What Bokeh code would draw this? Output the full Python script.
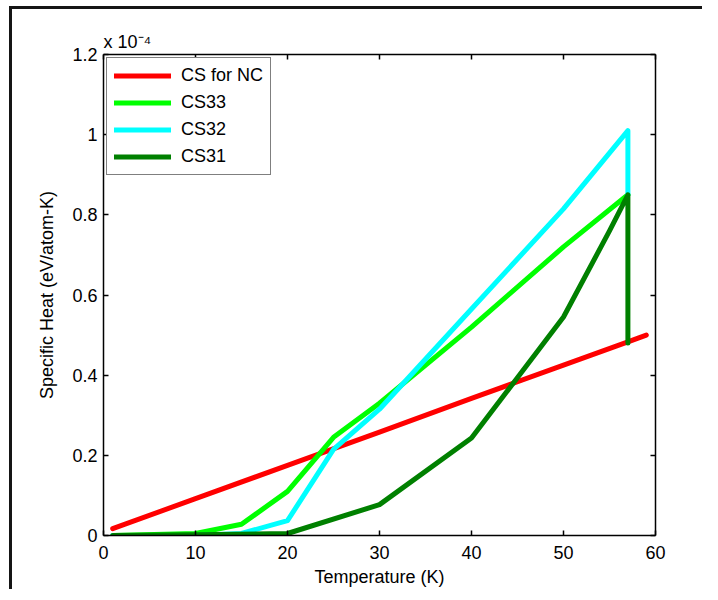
from bokeh.plotting import figure
from bokeh.models import Range1d, LinearAxis, FixedTicker, Legend, LegendItem, Title
from bokeh.embed import file_html
from bokeh.resources import INLINE

# values in units of 1e-4 eV/atom-K
temp_nc = [1, 10, 20, 30, 40, 50, 57, 59]
cs_nc = [0.017, 0.092, 0.175, 0.258, 0.342, 0.425, 0.483, 0.500]

temp_33 = [1, 10, 15, 20, 25, 30, 40, 50, 57]
cs_33 = [0.0, 0.005, 0.028, 0.11, 0.245, 0.33, 0.52, 0.72, 0.85]

temp_32 = [1, 10, 15, 20, 25, 30, 40, 50, 57, 57]
cs_32 = [0.0, 0.0, 0.005, 0.037, 0.215, 0.315, 0.565, 0.815, 1.01, 0.85]

temp_31 = [1, 10, 20, 30, 40, 50, 55, 57, 57]
cs_31 = [0.0, 0.002, 0.005, 0.077, 0.243, 0.545, 0.76, 0.85, 0.48]

series_names = ["CS for NC", "CS33", "CS32", "CS31"]
series_colors = ["#ff0000", "#00ff00", "#00ffff", "#008000"]

x_ticks = [0, 10, 20, 30, 40, 50, 60]
x_tick_labels = ["0", "10", "20", "30", "40", "50", "60"]
y_ticks = [0, 0.2, 0.4, 0.6, 0.8, 1.0, 1.2]
y_tick_labels = ["0", "0.2", "0.4", "0.6", "0.8", "1", "1.2"]
y_scale_text = "x 10\u207b\u2074"

FONT = "Liberation Sans"
FS = "18px"

p = figure(frame_width=552, frame_height=481, output_backend="svg",
           toolbar_location=None, x_range=Range1d(0, 60), y_range=Range1d(0, 1.2),
           min_border_left=103, min_border_right=47, min_border_top=54, min_border_bottom=20)
p.styles = {
    "background": ("linear-gradient(#151515,#151515) 9px 6px / 3px calc(100% - 6px) no-repeat, "
                   "linear-gradient(#151515,#151515) 9px 6px / calc(100% - 9px) 3px no-repeat, #ffffff"),
}
p.grid.visible = False
p.outline_line_color = None
p.background_fill_color = "white"
p.border_fill_color = None

bottom_ax = p.below[0]
left_ax = p.left[0]
top_ax = LinearAxis()
right_ax = LinearAxis()
p.add_layout(top_ax, "above")
p.add_layout(right_ax, "right")

for ax in [bottom_ax, top_ax]:
    ax.ticker = FixedTicker(ticks=x_ticks)
    ax.major_label_overrides = {t: l for t, l in zip(x_ticks, x_tick_labels)}
for ax in [left_ax, right_ax]:
    ax.ticker = FixedTicker(ticks=y_ticks)
    ax.major_label_overrides = {t: l for t, l in zip(y_ticks, y_tick_labels)}

for ax in [bottom_ax, left_ax, top_ax, right_ax]:
    ax.major_tick_in = 5
    ax.major_tick_out = 0
    ax.minor_tick_line_color = None
    ax.axis_line_width = 1.5
    ax.major_tick_line_width = 1.5
    ax.axis_line_color = "black"
    ax.major_tick_line_color = "black"
    ax.major_label_text_font = FONT
    ax.major_label_text_font_size = FS
    ax.major_label_text_color = "black"
    ax.axis_label_text_font = FONT
    ax.axis_label_text_font_size = FS
    ax.axis_label_text_font_style = "normal"
    ax.axis_label_text_color = "black"

top_ax.major_label_text_color = None
top_ax.major_label_text_font_size = "1px"
top_ax.major_label_standoff = 0
right_ax.major_label_text_color = None
right_ax.major_label_text_font_size = "1px"

bottom_ax.axis_label = "Temperature (K)"
bottom_ax.major_label_standoff = 10
bottom_ax.axis_label_standoff = 5
left_ax.axis_label = "Specific Heat (eV/atom-K)"
left_ax.major_label_standoff = 6
left_ax.axis_label_standoff = 12

xs = [temp_nc, temp_33, temp_32, temp_31]
ys = [cs_nc, cs_33, cs_32, cs_31]
items = []
for x, y, name, c in zip(xs, ys, series_names, series_colors):
    r = p.line(x, y, line_color=c, line_width=5, line_cap="round", line_join="round")
    items.append(LegendItem(label=name, renderers=[r]))

legend = Legend(items=items, location="top_left")
legend.margin = 3
legend.padding = 7
legend.spacing = 6
legend.glyph_width = 57
legend.glyph_height = 21
legend.label_height = 21
legend.label_standoff = 10
legend.label_text_font = FONT
legend.label_text_font_size = FS
legend.label_text_color = "black"
legend.border_line_color = "black"
legend.border_line_width = 1.5
legend.background_fill_color = "white"
legend.background_fill_alpha = 1
p.add_layout(legend)

scale_title = Title(text=y_scale_text, align="left", offset=0, standoff=6,
                    text_font=FONT, text_font_size=FS, text_font_style="normal",
                    text_color="black")
p.add_layout(scale_title, "above")

open("out.html", "w").write(file_html(p, INLINE))
